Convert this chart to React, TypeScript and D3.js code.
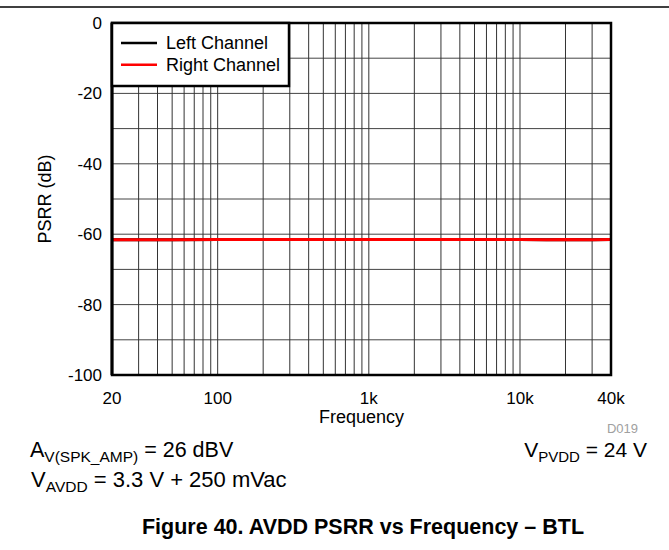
import React from "react";
import * as d3 from "d3";

const freqs = [20, 30, 50, 100, 200, 500, 1000, 2000, 5000, 10000, 15000, 20000, 30000, 40000];
const leftChannel = [-61.6, -61.6, -61.6, -61.5, -61.5, -61.5, -61.5, -61.5, -61.5, -61.5, -61.6, -61.5, -61.6, -61.5];
const rightChannel = [-61.6, -61.6, -61.6, -61.5, -61.5, -61.5, -61.5, -61.5, -61.5, -61.5, -61.6, -61.5, -61.6, -61.5];
const xTickValues = [20, 100, 1000, 10000, 40000];
const xTickLabels = ["20", "100", "1k", "10k", "40k"];
const yTickValues = [0, -20, -40, -60, -80, -100];
const seriesNames = ["Left Channel", "Right Channel"];
const seriesColors = ["#000000", "#ff0000"];

const W = 669;
const H = 550;
const L = 112, R = 611, T = 23, B = 375;
const FONT = "'Liberation Sans', Arial, sans-serif";

export default function App() {
  const x = d3.scaleLog().domain([20, 40000]).range([L, R]);
  const y = d3.scaleLinear().domain([-100, 0]).range([B, T]);

  const vGrid: number[] = [];
  for (let dec = 10; dec <= 10000; dec *= 10) {
    for (let m = 1; m <= 9; m++) {
      const f = dec * m;
      if (f > 20 && f < 40000) vGrid.push(f);
    }
  }
  vGrid.push(20000, 30000);
  const hGrid = d3.range(-90, 0, 10);

  const line = d3
    .line<number>()
    .x((_, i) => x(freqs[i]))
    .y((d) => y(d));

  const series = [leftChannel, rightChannel];

  return (
    <svg
      width={W}
      height={H}
      style={{ position: "absolute", left: 0, top: 0, background: "#fff" }}
      fontFamily={FONT}
    >
      <line x1={0} x2={W} y1={7} y2={7} stroke="#000" strokeWidth={1.5} />
      {/* grid */}
      {hGrid.map((v) => (
        <line key={"h" + v} x1={L} x2={R} y1={y(v)} y2={y(v)} stroke="#444" strokeWidth={1} />
      ))}
      {Array.from(new Set(vGrid)).map((f) => (
        <line key={"v" + f} x1={x(f)} x2={x(f)} y1={T} y2={B} stroke="#333" strokeWidth={1} />
      ))}
      {/* series */}
      {series.map((s, i) => (
        <path key={i} d={line(s) || ""} fill="none" stroke={seriesColors[i]} strokeWidth={3} />
      ))}
      {/* frame */}
      <rect x={L} y={T} width={R - L} height={B - T} fill="none" stroke="#000" strokeWidth={2.5} />
      <line x1={L} x2={L} y1={T} y2={B} stroke="#000" strokeWidth={3} />
      {/* legend */}
      <rect x={L} y={T} width={177} height={63} fill="#fff" stroke="#000" strokeWidth={2.5} />
      {seriesNames.map((n, i) => (
        <g key={n}>
          <line x1={121} x2={157} y1={43 + i * 21.7} y2={43 + i * 21.7} stroke={seriesColors[i]} strokeWidth={2.5} />
          <text x={166} y={43 + i * 21.7} dy="0.35em" fontSize={18}>
            {n}
          </text>
        </g>
      ))}
      {/* y ticks */}
      {yTickValues.map((v) => (
        <text key={"yt" + v} x={102} y={y(v)} dy="0.35em" textAnchor="end" fontSize={17}>
          {v}
        </text>
      ))}
      {xTickValues.map((v, i) => (
        <text key={"xt" + v} x={x(v)} y={404} textAnchor="middle" fontSize={17}>
          {xTickLabels[i]}
        </text>
      ))}
      <text x={(L + R) / 2} y={423} textAnchor="middle" fontSize={18}>
        Frequency
      </text>
      <text
        transform={`translate(45,${(T + B) / 2}) rotate(-90)`}
        textAnchor="middle"
        dy="0.35em"
        fontSize={18}
      >
        PSRR (dB)
      </text>
      <text x={638} y={433} textAnchor="end" fontSize={13} fill="#a0a0a0">
        D019
      </text>
      <text x={30} y={457} fontSize={21.5}>
        A<tspan fontSize={15.5} dy={5}>V(SPK_AMP)</tspan>
        <tspan dy={-5}> = 26 dBV</tspan>
      </text>
      <text x={647} y={457} fontSize={21} textAnchor="end">
        V<tspan fontSize={15} dy={5}>PVDD</tspan>
        <tspan dy={-5}> = 24 V</tspan>
      </text>
      <text x={31} y={487} fontSize={22}>
        V<tspan fontSize={15.5} dy={5}>AVDD</tspan>
        <tspan dy={-5}> = 3.3 V + 250 mVac</tspan>
      </text>
      <text x={363} y={534} textAnchor="middle" fontSize={21.5} fontWeight="bold">
        Figure 40. AVDD PSRR vs Frequency – BTL
      </text>
    </svg>
  );
}
